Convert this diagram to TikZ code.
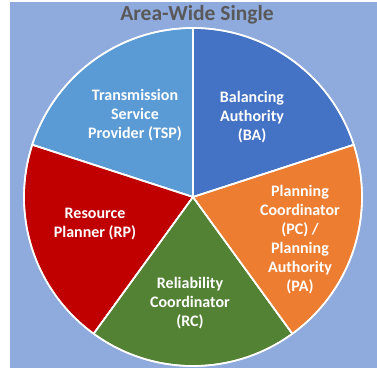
\documentclass[tikz,border=0pt]{standalone}
\usepackage{fontspec}
\setmainfont{Carlito}
\definecolor{bgblue}{HTML}{8FAADC}
\definecolor{tspblue}{HTML}{5B9BD5}
\definecolor{bablue}{HTML}{4472C4}
\definecolor{pcorange}{HTML}{ED7D31}
\definecolor{rcgreen}{HTML}{548235}
\definecolor{rpred}{HTML}{C00000}
\definecolor{titlegray}{HTML}{595959}
\begin{document}
\begin{tikzpicture}[x=1pt,y=1pt,
  slice/.style={draw=white, line width=1.6pt, line join=round},
  lbl/.style={text=white, font=\fontsize{16}{19}\selectfont\bfseries, align=center, inner sep=0pt}]
\useasboundingbox (0,0) rectangle (377,370);
\fill[bgblue] (10,2) rectangle (377,368);
\coordinate (c) at (193,173);
\def\R{169}
\fill[slice, fill=bablue] (c) -- ++(18:\R) arc[start angle=18, end angle=90, radius=\R] -- cycle;
\fill[slice, fill=tspblue] (c) -- ++(90:\R) arc[start angle=90, end angle=162, radius=\R] -- cycle;
\fill[slice, fill=rpred] (c) -- ++(162:\R) arc[start angle=162, end angle=234, radius=\R] -- cycle;
\fill[slice, fill=rcgreen] (c) -- ++(234:\R) arc[start angle=234, end angle=306, radius=\R] -- cycle;
\fill[slice, fill=pcorange] (c) -- ++(306:\R) arc[start angle=306, end angle=378, radius=\R] -- cycle;
\draw[slice] (c) -- ++(18:\R) (c) -- ++(90:\R) (c) -- ++(162:\R) (c) -- ++(234:\R) (c) -- ++(306:\R);
\draw[slice] (c) circle[radius=\R];
\node[font=\fontsize{21.5}{24}\selectfont\bfseries, text=titlegray, inner sep=0pt] (title) at (197,355) {Area-Wide Single};
\node[lbl] (tsp) at (135,255) {Transmission\\Service\\Provider (TSP)};
\node[lbl] (ba) at (252,253) {Balancing\\Authority\\(BA)};
\node[lbl] (pc) at (300,130) {Planning\\Coordinator\\(PC) /\\Planning\\Authority\\(PA)};
\node[lbl] (rp) at (95,146) {Resource\\Planner (RP)};
\node[lbl] (rc) at (190,67) {Reliability\\Coordinator\\(RC)};
\end{tikzpicture}
\end{document}
